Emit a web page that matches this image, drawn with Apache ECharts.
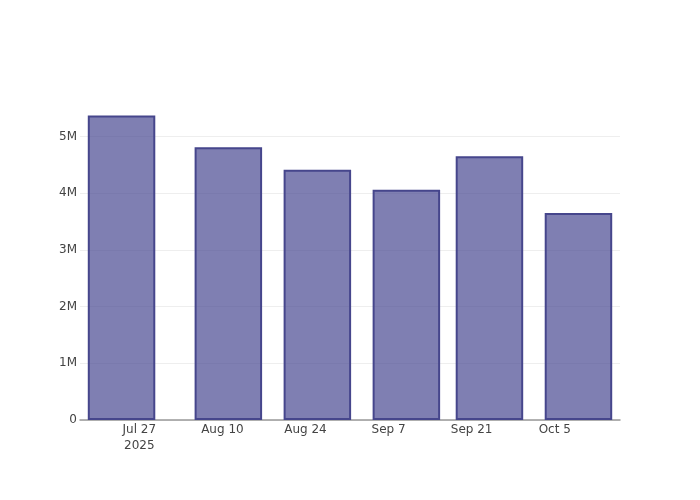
<!DOCTYPE html>
<html>
<head>
<meta charset="utf-8">
<script src="https://cdn.jsdelivr.net/npm/echarts@6/dist/echarts.min.js"></script>
<style>html,body{margin:0;padding:0;background:#fff}#c{width:700px;height:500px}</style>
</head>
<body>
<div id="c"></div>
<script>
const dates = ['2025-07-24','2025-08-11','2025-08-26','2025-09-10','2025-09-24','2025-10-09'];
const values = [5374000, 4815000, 4415000, 4065000, 4655000, 3655000];
const tickDates = ['2025-07-27','2025-08-10','2025-08-24','2025-09-07','2025-09-21','2025-10-05'];
const tickLabels = ['Jul 27\n2025','Aug 10','Aug 24','Sep 7','Sep 21','Oct 5'];
const xRange = ['2025-07-17','2025-10-16'];
const yTicks = [0, 1000000, 2000000, 3000000, 4000000, 5000000];
const yTickLabels = ['0','1M','2M','3M','4M','5M'];
const yMax = 5648000;

function ts(s){ const p = s.split('-').map(Number); return Date.UTC(p[0], p[1]-1, p[2]); }
const tickTs = tickDates.map(ts);

const chart = echarts.init(document.getElementById('c'), null, {renderer:'canvas'});
chart.setOption({
  animation: false,
  backgroundColor: '#fff',
  textStyle: {fontFamily: 'DejaVu Sans'},
  grid: {left: 80, right: 80, top: 100, bottom: 80, containLabel: false},
  xAxis: {
    type: 'value',
    min: ts(xRange[0]), max: ts(xRange[1]),
    axisLine: {show: true, onZero: false, lineStyle: {color: '#999', width: 1.5}},
    axisTick: {show: false, customValues: tickTs},
    splitLine: {show: false},
    axisLabel: {
      customValues: tickTs,
      color: '#444', fontSize: 12, fontFamily: 'DejaVu Sans', margin: 2, lineHeight: 16,
      hideOverlap: false,
      formatter: function(v){ const i = tickTs.indexOf(v); return i >= 0 ? tickLabels[i] : ''; }
    }
  },
  yAxis: {
    type: 'value', min: 0, max: yMax,
    axisLine: {show: false},
    axisTick: {show: false, customValues: yTicks},
    splitLine: {show: true, lineStyle: {color: '#eee', width: 1}},
    axisLabel: {
      customValues: yTicks,
      color: '#444', fontSize: 12, fontFamily: 'DejaVu Sans', margin: 3,
      formatter: function(v){ const i = yTicks.indexOf(v); return i >= 0 ? yTickLabels[i] : ''; }
    }
  },
  series: [{
    type: 'bar',
    data: dates.map((d, i) => [ts(d), values[i]]),
    barWidth: 67.5,
    itemStyle: {color: 'rgba(78,78,148,0.72)', borderColor: '#46468c', borderWidth: 2}
  }]
});
</script>
</body>
</html>
